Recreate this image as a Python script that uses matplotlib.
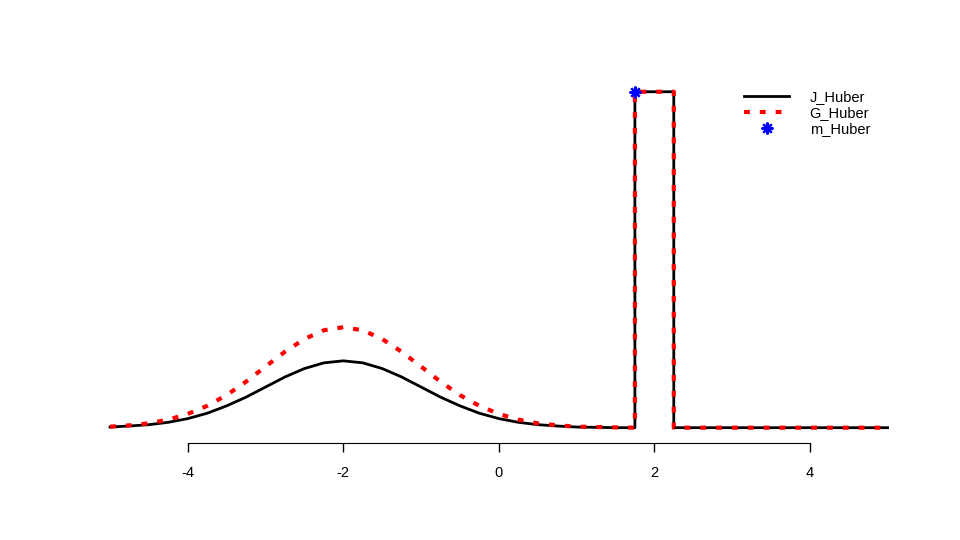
import matplotlib
matplotlib.use("Agg")
import matplotlib.pyplot as plt

plt.rcParams['font.family'] = ['Liberation Sans', 'DejaVu Sans']

# valeurs
x_bosse = [-5, -4.75, -4.5, -4.25, -4, -3.75, -3.5, -3.25, -3, -2.75, -2.5, -2.25,
           -2, -1.75, -1.5, -1.25, -1, -0.75, -0.5, -0.25, 0, 0.25, 0.5, 0.75,
           1, 1.25, 1.5, 1.75]
j_bosse = [0.002, 0.005, 0.009, 0.016, 0.027, 0.043, 0.065, 0.091, 0.121, 0.151, 0.176, 0.193,
           0.199, 0.193, 0.176, 0.151, 0.121, 0.091, 0.065, 0.043, 0.027, 0.016, 0.009, 0.005,
           0.002, 0.001, 0.000, 0.000]
g_bosse = [0.003, 0.007, 0.013, 0.024, 0.041, 0.065, 0.097, 0.137, 0.182, 0.226, 0.264, 0.290,
           0.299, 0.290, 0.264, 0.226, 0.182, 0.137, 0.097, 0.065, 0.041, 0.024, 0.013, 0.007,
           0.003, 0.002, 0.001, 0.000]
x_bloc = [1.75, 2.25, 2.25, 5]
y_bloc = [1, 1, 0, 0]

x_j = x_bosse + x_bloc
y_j = j_bosse + y_bloc
x_g = x_bosse + x_bloc
y_g = g_bosse + y_bloc

m_x = [1.75]
m_y = [1]

x_ticks = [-4, -2, 0, 2, 4]
noms = ['J_Huber', 'G_Huber', 'm_Huber']

fig = plt.figure(figsize=(9.6, 5.4), dpi=100)
ax = fig.add_axes([0.0822, 0.18, 0.957 - 0.0822, 0.855 - 0.18])

ax.plot(x_j, y_j, color='black', lw=2, label=noms[0])
ax.plot(x_g, y_g, color='red', lw=3, linestyle=(0, (1.4, 2.4)),
        dash_capstyle='butt', label=noms[1])
ax.plot(m_x, m_y, linestyle='none', marker=(8, 2, 0), color='blue',
        markersize=8.5, mew=1.6, label=noms[2])

ax.set_xlim(-5.4, 5.4)
ax.set_ylim(-0.045, 1.04)
for s in ['top', 'right', 'left']:
    ax.spines[s].set_visible(False)
ax.spines['bottom'].set_bounds(-4, 4)
ax.set_yticks([])
ax.set_xticks(x_ticks)
ax.set_xticklabels([str(t) for t in x_ticks])
ax.tick_params(axis='x', length=6.5, width=1, pad=10, labelsize=10.5)

ax.legend(loc='upper left', bbox_to_anchor=(744 / 960, 1 - 90 / 540),
          bbox_transform=fig.transFigure, frameon=False, fontsize=10.5,
          handlelength=3.1, handletextpad=1.4, labelspacing=0.15,
          borderpad=0, borderaxespad=0)

fig.savefig('out.png', dpi=100)
